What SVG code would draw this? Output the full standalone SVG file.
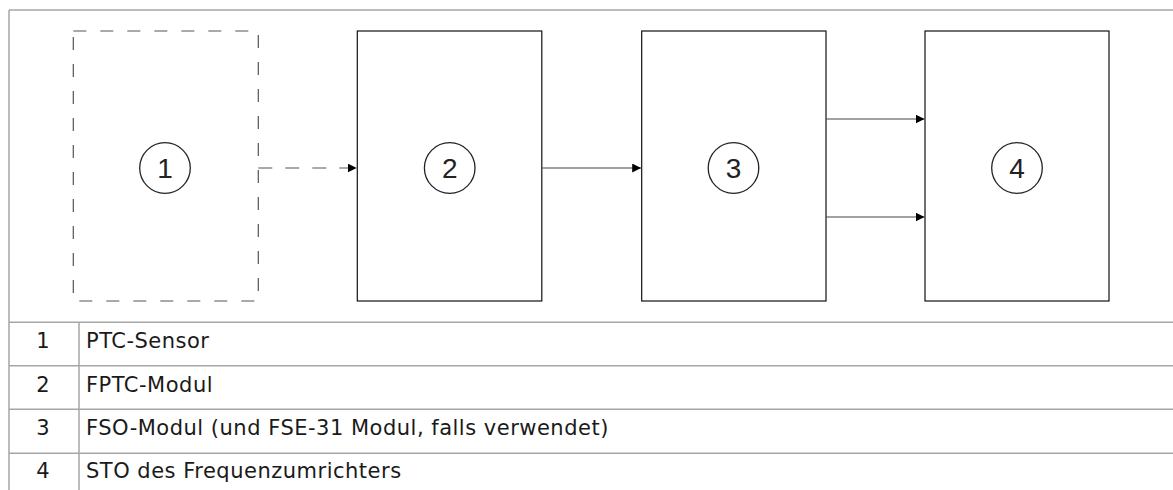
<svg xmlns="http://www.w3.org/2000/svg" width="1173" height="490" viewBox="0 0 1173 490">
<style>
.frame{stroke:#a6a6a6;stroke-width:1.5;fill:none}
.box{fill:#fff;stroke:#111;stroke-width:1.2}
.dbox{fill:none;stroke:#555;stroke-width:1.2;stroke-dasharray:13 14}
.circ{fill:none;stroke:#222;stroke-width:1.3}
.num{font-family:"Liberation Sans",Arial,sans-serif;font-size:28px;fill:#222;text-anchor:middle}
.conn{stroke:#444;stroke-width:1.2;fill:none}
.dconn{stroke:#555;stroke-width:1.2;fill:none;stroke-dasharray:14 13}
.tt{font-family:"DejaVu Sans",Verdana,sans-serif;font-size:21px;fill:#1a1a1a;letter-spacing:0.5px}
.tn{font-family:"DejaVu Sans",Verdana,sans-serif;font-size:21px;fill:#1a1a1a;text-anchor:middle}
</style>
<defs>
<marker id="arr" markerWidth="9" markerHeight="9" refX="9" refY="4.5" orient="auto" markerUnits="userSpaceOnUse">
<path d="M0,0 L9,4.5 L0,9 z" fill="#000"/>
</marker>
</defs>
<rect x="0" y="0" width="1173" height="490" fill="#fff"/>
<g id="table">
<line class="frame" x1="9" y1="10" x2="1173" y2="10"/>
<line class="frame" x1="9" y1="10" x2="9" y2="490"/>
<line class="frame" x1="9" y1="322.3" x2="1173" y2="322.3"/>
<line class="frame" x1="9" y1="365.8" x2="1173" y2="365.8"/>
<line class="frame" x1="9" y1="409.3" x2="1173" y2="409.3"/>
<line class="frame" x1="9" y1="453.3" x2="1173" y2="453.3"/>
<line class="frame" x1="79" y1="322.3" x2="79" y2="490"/>
<text class="tn" x="43" y="348">1</text>
<text class="tt" x="86" y="348">PTC-Sensor</text>
<text class="tn" x="43" y="391.7">2</text>
<text class="tt" x="86" y="391.7">FPTC-Modul</text>
<text class="tn" x="43" y="435">3</text>
<text class="tt" x="86" y="435">FSO-Modul (und FSE-31 Modul, falls verwendet)</text>
<text class="tn" x="43" y="478.3">4</text>
<text class="tt" x="86" y="478.3">STO des Frequenzumrichters</text>
</g>
<g id="node1">
<rect class="dbox" x="73.3" y="31" width="185" height="270"/>
<circle class="circ" cx="165" cy="168" r="25.3"/>
<text class="num" x="165" y="177.5">1</text>
</g>
<g id="node2">
<rect class="box" x="357.3" y="31" width="184.5" height="270"/>
<circle class="circ" cx="449.7" cy="168" r="25.3"/>
<text class="num" x="449.7" y="177.5">2</text>
</g>
<g id="node3">
<rect class="box" x="641.7" y="31" width="184.3" height="270"/>
<circle class="circ" cx="733.5" cy="168" r="25.3"/>
<text class="num" x="733.5" y="177.5">3</text>
</g>
<g id="node4">
<rect class="box" x="925" y="31" width="184" height="270"/>
<circle class="circ" cx="1017" cy="168" r="25.3"/>
<text class="num" x="1017" y="177.5">4</text>
</g>
<g id="connectors">
<line class="dconn" x1="258.3" y1="168" x2="356.7" y2="168" marker-end="url(#arr)"/>
<line class="conn" x1="541.8" y1="168" x2="641.2" y2="168" marker-end="url(#arr)"/>
<line class="conn" x1="826" y1="119" x2="924.5" y2="119" marker-end="url(#arr)"/>
<line class="conn" x1="826" y1="217" x2="924.5" y2="217" marker-end="url(#arr)"/>
</g>
</svg>
